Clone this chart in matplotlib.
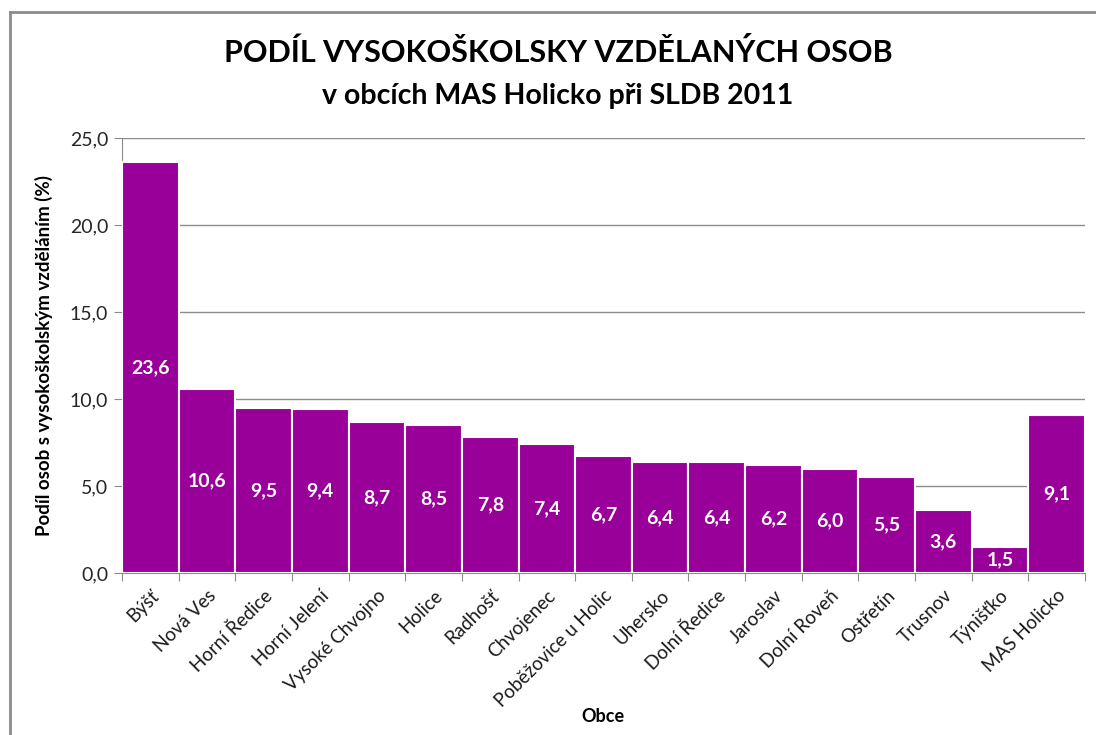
import matplotlib
matplotlib.use("Agg")
import matplotlib.pyplot as plt
from matplotlib.lines import Line2D

obce = ["Býšť", "Nová Ves", "Horní Ředice", "Horní Jelení", "Vysoké Chvojno",
        "Holice", "Radhošť", "Chvojenec", "Poběžovice u Holic", "Uhersko",
        "Dolní Ředice", "Jaroslav", "Dolní Roveň", "Ostřetín", "Trusnov",
        "Týnišťko", "MAS Holicko"]
podil = [23.6, 10.6, 9.5, 9.4, 8.7, 8.5, 7.8, 7.4, 6.7, 6.4, 6.4, 6.2, 6.0, 5.5, 3.6, 1.5, 9.1]
yticks = [0, 5, 10, 15, 20, 25]

plt.rcParams['font.family'] = ['Lato', 'DejaVu Sans']

fig = plt.figure(figsize=(10.96, 7.35), dpi=100)
ax = fig.add_axes([0.1113, 0.2204, 0.8787, 0.5918])

# outer frame of the chart area (only top and left edges are visible)
fx, fy = 10 / 1096, 1 - 12 / 735
fig.lines.append(Line2D([fx, 1.0], [fy, fy], transform=fig.transFigure, color='#8c8c8c', linewidth=2))
fig.lines.append(Line2D([fx, fx], [0, fy], transform=fig.transFigure, color='#8c8c8c', linewidth=2))

x = range(len(obce))
ax.bar(x, podil, width=1.0, color='#990099', edgecolor='white', linewidth=1.5, zorder=3)

for i, v in enumerate(podil):
    ax.text(i, v / 2, f"{v:.1f}".replace('.', ','), ha='center', va='center',
            color='white', fontsize=14, fontweight='bold', zorder=4)

ax.set_xlim(-0.5, len(obce) - 0.5)
ax.set_ylim(0, 25)
ax.set_yticks(yticks)
ax.set_yticklabels([f"{t:.1f}".replace('.', ',') for t in yticks], fontsize=14, color='#262626')
ax.yaxis.grid(True, color='#8c8c8c', linewidth=1, zorder=0)

ax.set_xticks([i - 0.5 for i in range(len(obce) + 1)], minor=False)
ax.set_xticklabels([])
ax.set_xticks(list(x), minor=True)
ax.set_xticklabels(obce, minor=True, rotation=45, ha='right', rotation_mode='anchor',
                   fontsize=13.5, color='#1a1a1a')
ax.tick_params(axis='x', which='minor', length=0, pad=10)
ax.tick_params(axis='x', which='major', length=6, color='#8c8c8c')
ax.tick_params(axis='y', length=6, color='#8c8c8c', pad=4)

for s in ['top', 'right']:
    ax.spines[s].set_visible(False)
ax.spines['left'].set_color('#8c8c8c')
ax.spines['bottom'].set_color('#8c8c8c')

ax.set_ylabel("Podíl osob s vysokoškolským vzděláním (%)", fontsize=13.5, fontweight='bold', labelpad=12)
fig.text(603 / 1096, 1 - 717 / 735, "Obce", ha='center', va='center', fontsize=13, fontweight='bold')

fig.text(558 / 1096, 1 - 52 / 735, "PODÍL VYSOKOŠKOLSKY VZDĚLANÝCH OSOB", ha='center', va='center',
         fontsize=22, fontweight='bold')
fig.text(558 / 1096, 1 - 96 / 735, "v obcích MAS Holicko při SLDB 2011", ha='center', va='center',
         fontsize=20.5, fontweight='bold')

fig.savefig("out.png", dpi=100)
